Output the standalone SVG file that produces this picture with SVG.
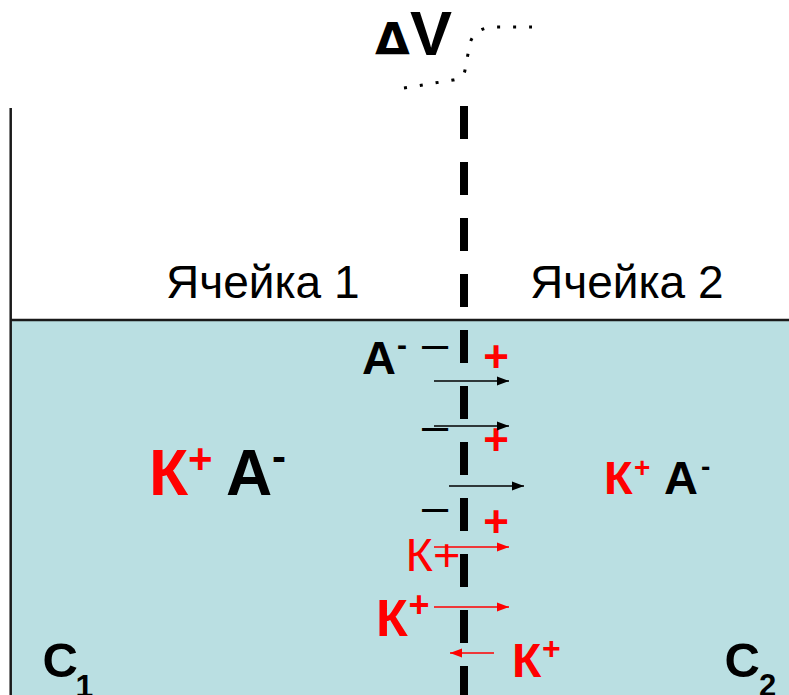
<svg xmlns="http://www.w3.org/2000/svg" width="789" height="695" viewBox="0 0 789 695">
  <style>
    .t { font-family: "Liberation Sans", Arial, sans-serif; }
    .b { font-weight: bold; }
    .red { fill: #FF0000; }
    .blk { fill: #000000; }
    .arr { stroke-width: 1.6; fill: none; }
  </style>
  <defs>
    <marker id="headBlack" markerUnits="userSpaceOnUse" markerWidth="14" markerHeight="10" refX="12" refY="5" orient="auto">
      <path d="M0,0.5 L12,5 L0,9.5 Z" fill="#000"/>
    </marker>
    <marker id="headRed" markerUnits="userSpaceOnUse" markerWidth="14" markerHeight="10" refX="12" refY="5" orient="auto">
      <path d="M0,0.5 L12,5 L0,9.5 Z" fill="#FF0000"/>
    </marker>
  </defs>

  <rect width="789" height="695" fill="#FFFFFF"/>

  <!-- vessel: solution, surface line and left wall -->
  <g id="vessel">
    <rect x="11" y="320" width="778" height="375" fill="#BADFE2"/>
    <line x1="10" y1="320" x2="789" y2="320" stroke="#1a1a1a" stroke-width="2.5"/>
    <line x1="10.7" y1="108" x2="10.7" y2="695" stroke="#1a1a1a" stroke-width="2.5"/>
  </g>

  <!-- membrane -->
  <g id="membrane">
    <line x1="464" y1="106" x2="464" y2="695" stroke="#000" stroke-width="8" stroke-dasharray="33 23"/>
  </g>

  <!-- potential difference label with dotted lead -->
  <g id="deltaV">
    <text class="t b blk" y="55"><tspan x="375" font-size="45" font-family="'DejaVu Sans', sans-serif">Δ</tspan><tspan x="410" font-size="63">V</tspan></text>
    <path d="M404,88 L453,80 Q464,78 465,70 L470,43 Q474,30 490,27 L532,27" fill="none" stroke="#000" stroke-width="3" stroke-dasharray="3 13"/>
  </g>

  <!-- compartment titles -->
  <g id="cell1">
    <text class="t blk" x="166" y="298" font-size="46">Ячейка 1</text>
  </g>
  <g id="cell2">
    <text class="t blk" x="530" y="298" font-size="46">Ячейка 2</text>
  </g>

  <!-- ions in compartment 1 -->
  <g id="ions1">
    <text class="t b" y="495"><tspan class="red" x="149" font-size="64">К</tspan><tspan class="red" x="188" y="473" font-size="42">+</tspan><tspan class="blk" x="226" y="495" font-size="64">A</tspan><tspan class="blk" x="272" y="471" font-size="42">-</tspan></text>
  </g>

  <!-- ions in compartment 2 -->
  <g id="ions2">
    <text class="t b" y="494"><tspan class="red" x="604" font-size="47">К</tspan><tspan class="red" x="634" y="477" font-size="28">+</tspan><tspan class="blk" x="664" y="494" font-size="47">A</tspan><tspan class="blk" x="701" y="476" font-size="28">-</tspan></text>
  </g>

  <!-- charges on the membrane surfaces -->
  <g id="charges">
    <text class="t blk" x="422" y="359" font-size="47">–</text>
    <text class="t blk" x="422" y="441" font-size="47">–</text>
    <text class="t blk" x="422" y="522" font-size="47">–</text>
    <text class="t b red" x="496" y="371.5" font-size="44" text-anchor="middle">+</text>
    <text class="t b red" x="496" y="454.5" font-size="44" text-anchor="middle">+</text>
    <text class="t b red" x="496" y="536.5" font-size="44" text-anchor="middle">+</text>
  </g>

  <!-- ion labels beside the membrane -->
  <g id="anionLabel">
    <text class="t b blk" y="374"><tspan x="362" font-size="47">A</tspan><tspan x="397" y="355" font-size="30">-</tspan></text>
  </g>
  <g id="cationLabel1">
    <text class="t red" x="405.6" y="571" font-size="47">К+</text>
  </g>
  <g id="cationLabel2">
    <text class="t b red" y="636"><tspan x="376" font-size="52">К</tspan><tspan x="408.5" y="617" font-size="36">+</tspan></text>
  </g>
  <g id="cationLabel3">
    <text class="t b red" y="677"><tspan x="512" font-size="48">К</tspan><tspan x="542" y="659" font-size="32">+</tspan></text>
  </g>

  <!-- concentration labels (subscripts run past the lower edge) -->
  <g id="conc1">
    <text class="t b blk" y="677"><tspan x="42.5" font-size="49">C</tspan><tspan x="75.5" y="697" font-size="32">1</tspan></text>
  </g>
  <g id="conc2">
    <text class="t b blk" y="677"><tspan x="724.5" font-size="49">C</tspan><tspan x="759" y="696" font-size="31">2</tspan></text>
  </g>

  <!-- ion flux arrows -->
  <g id="connectors">
    <line class="arr" x1="434" y1="381" x2="509" y2="381" stroke="#000" marker-end="url(#headBlack)"/>
    <line class="arr" x1="434" y1="426" x2="509" y2="426" stroke="#000" marker-end="url(#headBlack)"/>
    <line class="arr" x1="449" y1="486" x2="524" y2="486" stroke="#000" marker-end="url(#headBlack)"/>
    <line class="arr" x1="434" y1="547" x2="509" y2="547" stroke="#FF0000" marker-end="url(#headRed)"/>
    <line class="arr" x1="434" y1="607" x2="509" y2="607" stroke="#FF0000" marker-end="url(#headRed)"/>
    <line class="arr" x1="494" y1="653" x2="450" y2="653" stroke="#FF0000" marker-end="url(#headRed)"/>
  </g>
</svg>
